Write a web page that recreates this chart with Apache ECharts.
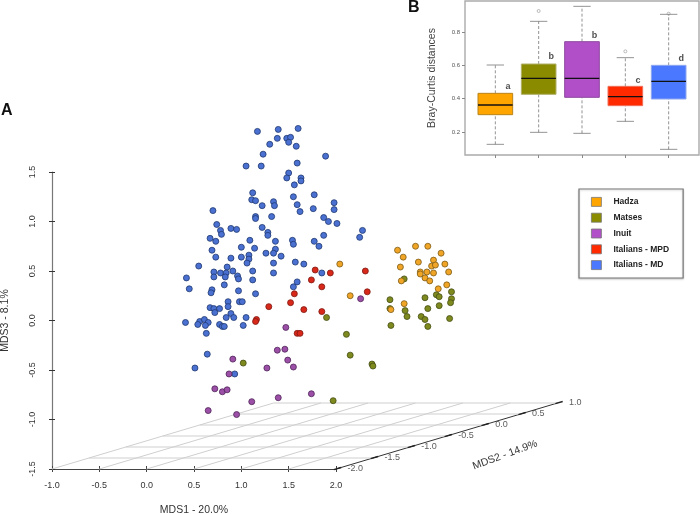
<!DOCTYPE html>
<html>
<head>
<meta charset="utf-8">
<style>
  html, body { margin: 0; padding: 0; background: #fff; }
  #chart { width: 700px; height: 514px; }
</style>
</head>
<body>
<div id="chart"></div>
<script src="https://cdn.jsdelivr.net/npm/echarts@6/dist/echarts.min.js"></script>
<script>
// Panel A: points as projected by the 3D plot, read on the MDS1 / MDS3 front axes
var italiansMd = [[1.17,1.91],[1.39,1.93],[1.60,1.94],[1.38,1.84],[1.48,1.84],[1.52,1.85],[1.50,1.80],[1.30,1.78],[1.58,1.76],[1.23,1.68],
  [1.89,1.66],[1.05,1.56],[1.21,1.56],[1.59,1.59],[1.50,1.49],[1.48,1.44],[1.63,1.44],[1.63,1.41],[1.56,1.37],[1.12,1.29],
  [1.11,1.22],[1.15,1.21],[1.34,1.20],[1.35,1.16],[1.22,1.16],[1.55,1.25],[1.77,1.27],[1.59,1.17],[1.98,1.19],[1.98,1.12],
  [1.76,1.13],[1.62,1.10],[0.70,1.11],[1.15,1.05],[1.15,1.03],[1.32,1.05],[1.87,1.04],[1.92,1.00],[2.01,0.98],[0.74,0.97],
  [0.78,0.91],[0.79,0.87],[0.89,0.93],[0.95,0.92],[1.22,0.94],[1.28,0.89],[1.28,0.86],[0.67,0.83],[0.73,0.80],[1.09,0.81],
  [1.36,0.80],[1.54,0.81],[1.55,0.77],[1.77,0.80],[1.82,0.75],[1.87,0.86],[1.00,0.74],[1.14,0.73],[0.69,0.71],[1.36,0.72],
  [1.34,0.68],[1.26,0.68],[1.42,0.65],[1.08,0.66],[1.08,0.62],[0.73,0.64],[0.89,0.63],[1.00,0.64],[1.06,0.58],[0.55,0.55],
  [1.34,0.58],[1.57,0.59],[1.66,0.57],[0.85,0.54],[0.71,0.49],[0.78,0.48],[0.84,0.48],[0.83,0.44],[0.91,0.50],[0.96,0.45],
  [0.97,0.42],[1.12,0.50],[1.12,0.41],[1.34,0.48],[1.85,0.48],[0.71,0.44],[0.42,0.43],[0.82,0.36],[1.59,0.39],[1.55,0.34],
  [0.45,0.32],[0.69,0.31],[0.68,0.28],[0.97,0.30],[1.15,0.27],[0.86,0.19],[0.98,0.19],[1.01,0.19],[0.86,0.14],[0.67,0.13],
  [0.71,0.12],[0.77,0.12],[0.72,0.08],[0.89,0.07],[0.84,0.03],[0.92,0.03],[1.05,0.03],[0.41,-0.02],[0.56,-0.01],[0.61,0.01],
  [0.65,-0.02],[0.54,-0.04],[0.62,-0.05],[0.77,-0.04],[0.80,-0.06],[0.82,-0.06],[1.02,-0.05],[0.63,-0.13],[0.64,-0.34],[0.51,-0.48],
  [0.93,-0.54],[2.25,0.84],[2.28,0.91]];
var italiansMpd = [[1.78,0.51],[1.94,0.48],[1.74,0.41],[1.85,0.34],[1.56,0.27],[1.52,0.18],[1.29,0.14],[1.66,0.11],[1.85,0.09],
  [1.16,0.01],[1.15,-0.01],[1.59,-0.13],[1.62,-0.13],[2.31,0.50],[2.33,0.29]];
var inuit = [[1.47,-0.07],[1.38,-0.30],[1.46,-0.29],[0.91,-0.39],[1.49,-0.40],[1.27,-0.48],[1.55,-0.47],[0.87,-0.54],[0.72,-0.69],
  [0.80,-0.72],[0.85,-0.70],[1.74,-0.74],[1.39,-0.78],[1.11,-0.82],[0.65,-0.91],[0.95,-0.95],[2.26,0.22]];
var hadza = [[2.65,0.71],[2.84,0.75],[2.97,0.75],[3.11,0.68],[2.71,0.64],[3.03,0.61],[2.87,0.59],[3.15,0.57],[3.01,0.55],[3.05,0.56],
  [2.68,0.54],[2.89,0.49],[2.89,0.47],[2.96,0.49],[3.03,0.48],[3.19,0.49],[2.94,0.43],[2.99,0.40],[2.69,0.40],[3.17,0.36],
  [3.08,0.32],[2.72,0.17],[2.58,0.11],[2.04,0.57],[2.15,0.25]];
var matses = [[2.72,0.42],[3.22,0.29],[3.06,0.26],[3.09,0.24],[3.22,0.22],[2.94,0.23],[2.57,0.21],[3.21,0.18],[3.09,0.15],[2.97,0.12],
  [2.57,0.12],[2.73,0.10],[2.75,0.04],[2.90,0.04],[2.94,0.01],[3.20,0.02],[2.58,-0.05],[2.97,-0.06],[2.11,-0.14],[2.15,-0.35],
  [2.38,-0.44],[2.39,-0.46],[1.90,0.03],[1.02,-0.43],[1.97,-0.81]];

var mds1Ticks = [-1, -0.5, 0, 0.5, 1, 1.5, 2];
var mds2Ticks = [-2, -1.5, -1, -0.5, 0, 0.5, 1];

// Panel B: Bray-Curtis boxes
var groups = ['Hadza', 'Matses', 'Inuit', 'Italians - MPD', 'Italians - MD'];
var whiskerLow = [0.126, 0.198, 0.192, 0.264, 0.096];
var boxLow = [0.304, 0.426, 0.408, 0.358, 0.398];
var medians = [0.362, 0.522, 0.522, 0.412, 0.504];
var boxHigh = [0.432, 0.608, 0.742, 0.474, 0.600];
var whiskerHigh = [0.602, 0.864, 0.954, 0.646, 0.906];
var outliers = [[2, 0.926], [4, 0.684], [5, 0.91]];
var letters = ['a', 'b', 'b', 'c', 'd'];
var letterY = [0.47, 0.65, 0.78, 0.51, 0.64];

var boxColors = ['#ffa500', '#8b8b00', '#b04fc8', '#ff2a00', '#4a78ff'];
var boxBorders = ['#b8841c', '#b0b06a', '#8f4ba0', '#f0705a', '#8ea8f0'];
var pointColors = ['#f0a526', '#7f8a1e', '#9c4fa6', '#d8281a', '#4a70d2'];
var pointBorders = ['#7c5c18', '#444c14', '#4e2558', '#7c1810', '#20386e'];

// slant of the 3D floor, in MDS1 / MDS3 units for one MDS2 unit
var FLOOR_DX = 0.78, FLOOR_DY = 0.2222;
function floorPoint(mds1, mds2) {
  return [mds1 + (mds2 + 2) * FLOOR_DX, -1.5 + (mds2 + 2) * FLOOR_DY];
}

// segments of the floor: x1, y1, x2, y2, color, width
var floorSegments = [];
function addSegment(a, b, color, width) {
  floorSegments.push([a[0], a[1], b[0], b[1], color, width]);
}
mds1Ticks.forEach(function (t, i) {
  var last = i === mds1Ticks.length - 1;
  addSegment(floorPoint(t, -2), floorPoint(t, 1), last ? '#333' : '#cfcfcf', 1);
});
mds2Ticks.forEach(function (t, i) {
  if (i > 0) addSegment(floorPoint(-1, t), floorPoint(2, t), '#cfcfcf', 1);
  addSegment(floorPoint(2, t - 0.03), floorPoint(2, t + 0.07), '#222', 1.4);
});

var series = [];
series.push({
  type: 'custom', xAxisIndex: 0, yAxisIndex: 0, silent: true, z: 1, data: floorSegments,
  encode: { x: [0, 2], y: [1, 3] },
  renderItem: function (params, api) {
    var a = api.coord([api.value(0), api.value(1)]);
    var b = api.coord([api.value(2), api.value(3)]);
    return {
      type: 'line',
      shape: { x1: a[0], y1: a[1], x2: b[0], y2: b[1] },
      style: { stroke: floorSegments[params.dataIndex][4], lineWidth: floorSegments[params.dataIndex][5] }
    };
  }
});

series.push({
  type: 'scatter', xAxisIndex: 0, yAxisIndex: 0, silent: true, clip: false, symbolSize: 1,
  itemStyle: { color: 'transparent' }, z: 2,
  data: mds2Ticks.map(function (t) { return { value: floorPoint(2, t), name: t.toFixed(1) }; }),
  label: { show: true, position: 'right', distance: 11, formatter: '{b}', fontSize: 9, color: '#333' }
});

// back to front, so Italians - MD stays under the smaller groups
[[italiansMd, 4], [italiansMpd, 3], [inuit, 2], [matses, 1], [hadza, 0]].forEach(function (g) {
  series.push({
    type: 'scatter', name: groups[g[1]], xAxisIndex: 0, yAxisIndex: 0, data: g[0], clip: false,
    symbolSize: 6, z: 3,
    itemStyle: { color: pointColors[g[1]], borderColor: pointBorders[g[1]], borderWidth: 0.8, opacity: 1 }
  });
});

function renderBox(params, api) {
  var i = params.dataIndex;
  var x = api.value(0);
  var half = api.size([0.8, 0])[0] / 2;
  var cx = api.coord([x, 0.5])[0];
  function py(v) { return api.coord([x, v])[1]; }
  var grey = { stroke: '#777', lineWidth: 0.8 };
  var dashed = { stroke: '#777', lineWidth: 0.8, lineDash: [3, 2] };
  function line(x1, y1, x2, y2, style) {
    return { type: 'line', shape: { x1: x1, y1: y1, x2: x2, y2: y2 }, style: style };
  }
  return {
    type: 'group',
    children: [
      line(cx, py(api.value(1)), cx, py(api.value(2)), dashed),
      line(cx, py(api.value(4)), cx, py(api.value(5)), dashed),
      line(cx - half / 2, py(api.value(1)), cx + half / 2, py(api.value(1)), grey),
      line(cx - half / 2, py(api.value(5)), cx + half / 2, py(api.value(5)), grey),
      {
        type: 'rect',
        shape: { x: cx - half, y: py(api.value(4)), width: half * 2, height: py(api.value(2)) - py(api.value(4)) },
        style: { fill: boxColors[i], stroke: boxBorders[i], lineWidth: 1 }
      },
      line(cx - half, py(api.value(3)), cx + half, py(api.value(3)), { stroke: '#111', lineWidth: 1.4 })
    ]
  };
}

series.push({
  type: 'custom', xAxisIndex: 2, yAxisIndex: 2, renderItem: renderBox, silent: true, z: 2,
  data: groups.map(function (g, i) {
    return [i + 1, whiskerLow[i], boxLow[i], medians[i], boxHigh[i], whiskerHigh[i]];
  })
});
series.push({
  type: 'scatter', xAxisIndex: 2, yAxisIndex: 2, data: outliers, symbolSize: 3, silent: true, z: 3,
  itemStyle: { color: 'transparent', borderColor: '#888', borderWidth: 0.7 }
});
series.push({
  type: 'scatter', xAxisIndex: 2, yAxisIndex: 2, symbolSize: 1, silent: true, z: 4,
  itemStyle: { color: 'transparent' },
  data: letters.map(function (l, i) { return { value: [i + 1.29, letterY[i]], name: l }; }),
  label: { show: true, position: 'inside', formatter: '{b}', fontSize: 9, fontWeight: 'bold', color: '#222' }
});

var chart = echarts.init(document.getElementById('chart'));
chart.setOption({
  animation: false,
  textStyle: { fontFamily: '"Liberation Sans", Arial, sans-serif' },
  grid: [
    { left: 52, top: 172, width: 284, height: 297, outerBoundsMode: 'none' },
    { left: 465, top: 1, width: 234, height: 154, outerBoundsMode: 'none', show: true, borderColor: '#aaa', borderWidth: 1.4, backgroundColor: 'transparent' }
  ],
  xAxis: [
    {
      type: 'value', gridIndex: 0, min: -1, max: 2, interval: 0.5, position: 'bottom',
      name: 'MDS1 - 20.0%', nameLocation: 'middle', nameGap: 36,
      nameTextStyle: { fontSize: 10.5, color: '#333' },
      axisLine: { onZero: false, lineStyle: { color: '#444', width: 1 } },
      axisTick: { length: 3, lineStyle: { color: '#444' } },
      axisLabel: { fontSize: 9, color: '#333', margin: 12, formatter: function (v) { return v.toFixed(1); } },
      splitLine: { show: false }
    },
    {
      type: 'value', gridIndex: 0, min: -1, max: 2, interval: 0.5, position: 'bottom',
      axisLine: { show: false, onZero: false }, axisLabel: { show: false }, splitLine: { show: false },
      axisTick: { inside: true, length: 3, lineStyle: { color: '#444' } }
    },
    {
      type: 'value', gridIndex: 1, min: 0.3, max: 5.7,
      axisLine: { show: false, onZero: false }, axisLabel: { show: false }, splitLine: { show: false },
      axisTick: { length: 3, customValues: [1, 2, 3, 4, 5], lineStyle: { color: '#888' } }
    }
  ],
  yAxis: [
    {
      type: 'value', gridIndex: 0, min: -1.5, max: 1.5, interval: 0.5, position: 'left',
      name: 'MDS3 - 8.1%', nameLocation: 'middle', nameGap: 41,
      nameTextStyle: { fontSize: 10.5, color: '#333' },
      axisLine: { onZero: false, lineStyle: { color: '#777', width: 1.2 } },
      axisTick: { length: 3, lineStyle: { color: '#333' } },
      axisLabel: { fontSize: 9, color: '#333', rotate: 90, margin: 15, formatter: function (v) { return v.toFixed(1); } },
      splitLine: { show: false }
    },
    {
      type: 'value', gridIndex: 0, min: -1.5, max: 1.5, interval: 0.5, position: 'left',
      axisLine: { show: false, onZero: false }, axisLabel: { show: false }, splitLine: { show: false },
      axisTick: { inside: true, length: 3, lineStyle: { color: '#333' } }
    },
    {
      type: 'value', gridIndex: 1, min: 0.062, max: 0.986,
      name: 'Bray-Curtis distances', nameLocation: 'middle', nameGap: 27,
      nameTextStyle: { fontSize: 10.5, color: '#444' },
      axisLine: { show: false, onZero: false }, splitLine: { show: false },
      axisTick: { length: 3, customValues: [0.2, 0.4, 0.6, 0.8], lineStyle: { color: '#888' } },
      axisLabel: { fontSize: 6, color: '#555', margin: 5, customValues: [0.2, 0.4, 0.6, 0.8], formatter: function (v) { return v.toFixed(1); } }
    }
  ],
  legend: {
    left: 579, top: 189, orient: 'vertical', icon: 'rect', selectedMode: false,
    padding: [8, 14, 8, 12], itemWidth: 10, itemHeight: 9, itemGap: 6,
    borderColor: '#777', borderWidth: 1.2, backgroundColor: '#fff',
    shadowColor: 'rgba(0,0,0,0.2)', shadowBlur: 2, shadowOffsetY: 1,
    textStyle: { fontSize: 8.5, fontWeight: 'bold', color: '#222', padding: [0, 0, 0, 7] },
    data: groups.map(function (g, i) {
      return { name: g, itemStyle: { color: boxColors[i], borderColor: '#777', borderWidth: 0.8, opacity: 1 } };
    })
  },
  graphic: [
    { type: 'text', left: 1, top: 103, style: { text: 'A', font: 'bold 16px "Liberation Sans", Arial', fill: '#111' } },
    { type: 'text', left: 408, top: 0, style: { text: 'B', font: 'bold 16px "Liberation Sans", Arial', fill: '#111' } },
    {
      type: 'text', x: 505, y: 455, rotation: 20 * Math.PI / 180,
      style: { text: 'MDS2 - 14.9%', font: '10.5px "Liberation Sans", Arial', fill: '#333', align: 'center', verticalAlign: 'middle' }
    }
  ],
  series: series
});
</script>
</body>
</html>
